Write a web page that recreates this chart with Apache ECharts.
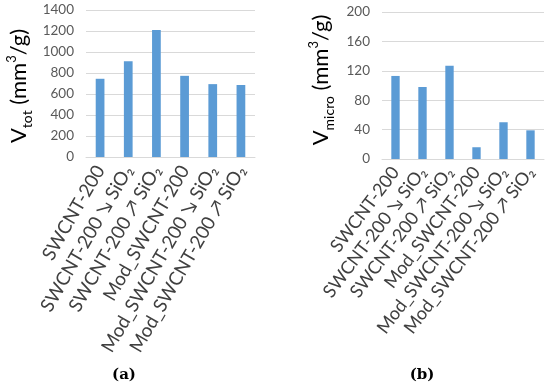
<!DOCTYPE html>
<html><head><meta charset="utf-8">
<script src="https://cdn.jsdelivr.net/npm/echarts@6/dist/echarts.min.js"></script>
<style>html,body{margin:0;padding:0;background:#fff}#c{width:550px;height:386px}</style>
</head><body><div id="c"></div>
<script>
const categories = ['SWCNT-200', 'SWCNT-200 \u2198 SiO\u2082', 'SWCNT-200 \u2197 SiO\u2082', 'Mod_SWCNT-200', 'Mod_SWCNT-200 \u2198 SiO\u2082', 'Mod_SWCNT-200 \u2197 SiO\u2082'];
const vTot = [745, 912, 1210, 773, 694, 686];
const vMicro = [113, 98, 127, 16, 50, 39];
const totTicks = [0, 1400, 200];
const microTicks = [0, 200, 40];

const chart = echarts.init(document.getElementById('c'));
const FONT = 'Lato';
const barColor = '#5b9bd5';
const gridColor = '#d9d9d9';
const tickColor = '#595959';

function xAxis(gi, rot, fs) {
  return {
    type: 'category', gridIndex: gi, data: categories,
    axisLine: {show: true, lineStyle: {color: gridColor}},
    axisTick: {show: false},
    axisLabel: {interval: 0, rotate: rot, margin: 10, fontFamily: FONT, fontSize: fs, color: '#404040'}
  };
}
function yAxis(gi, t) {
  return {
    type: 'value', gridIndex: gi, min: t[0], max: t[1], interval: t[2],
    axisLine: {show: false}, axisTick: {show: false},
    splitLine: {lineStyle: {color: gridColor}},
    axisLabel: {fontFamily: FONT, fontSize: 13.5, color: tickColor, margin: 12, formatter: v => String(v)}
  };
}
const rich = {
  v: {fontFamily: FONT, fontSize: 22, color: '#000', lineHeight: 28, verticalAlign: 'bottom'},
  s: {fontFamily: FONT, fontSize: 14, color: '#000', lineHeight: 28, verticalAlign: 'bottom', padding: [0,0,-4,0]},
  p: {fontFamily: FONT, fontSize: 13, color: '#000', lineHeight: 28, verticalAlign: 'top', padding: [3,0,0,0]}
};
chart.setOption({
  animation: false,
  grid: [
    {left: 86, right: 295, top: 10, bottom: 229},
    {left: 382, right: 6, top: 12, bottom: 227}
  ],
  xAxis: [xAxis(0, 60, 18.8), xAxis(1, 53, 18)],
  yAxis: [yAxis(0, totTicks), yAxis(1, microTicks)],
  series: [
    {type: 'bar', xAxisIndex: 0, yAxisIndex: 0, data: vTot, barWidth: '31%', itemStyle: {color: barColor}},
    {type: 'bar', xAxisIndex: 1, yAxisIndex: 1, data: vMicro, barWidth: '31%', itemStyle: {color: barColor}}
  ],
  graphic: [
    {type: 'text', x: 16, y: 86, rotation: Math.PI/2, style: {text: '{v|V}{s|tot}{v| (mm}{p|3}{v|/g)}', rich: rich, align: 'center', verticalAlign: 'middle'}},
    {type: 'text', x: 318, y: 80, rotation: Math.PI/2, style: {text: '{v|V}{s|micro}{v| (mm}{p|3}{v|/g)}', rich: rich, align: 'center', verticalAlign: 'middle'}},
    {type: 'text', x: 124, y: 375, style: {text: '(a)', font: 'bold 15px "DejaVu Serif"', fill: '#000', align: 'center', verticalAlign: 'middle'}},
    {type: 'text', x: 422, y: 375, style: {text: '(b)', font: 'bold 15px "DejaVu Serif"', fill: '#000', align: 'center', verticalAlign: 'middle'}}
  ]
});
</script></body></html>
